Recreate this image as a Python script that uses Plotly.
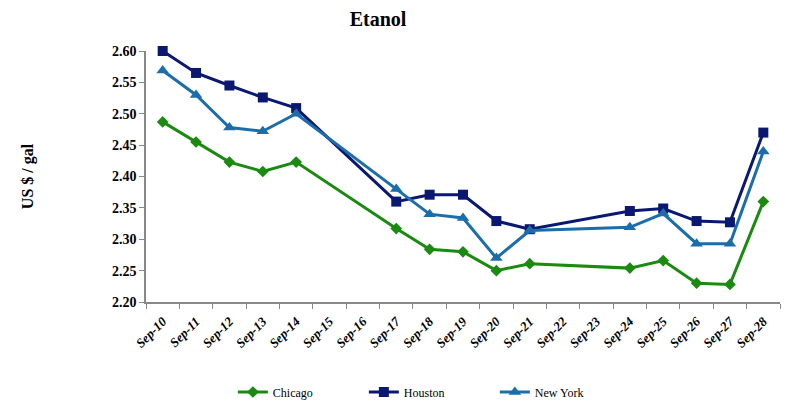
import plotly.graph_objects as go

categories = ["Sep-10", "Sep-11", "Sep-12", "Sep-13", "Sep-14", "Sep-15", "Sep-16",
              "Sep-17", "Sep-18", "Sep-19", "Sep-20", "Sep-21", "Sep-22", "Sep-23",
              "Sep-24", "Sep-25", "Sep-26", "Sep-27", "Sep-28"]
chicago = [2.487, 2.455, 2.423, 2.408, 2.423, None, None, 2.317, 2.284, 2.280,
           2.250, 2.261, None, None, 2.254, 2.266, 2.230, 2.228, 2.360]
houston = [2.600, 2.565, 2.545, 2.526, 2.509, None, None, 2.360, 2.371, 2.371,
           2.329, 2.316, None, None, 2.345, 2.349, 2.329, 2.327, 2.470]
new_york = [2.569, 2.530, 2.478, 2.472, 2.500, None, None, 2.380, 2.340, 2.334,
            2.270, 2.314, None, None, 2.319, 2.341, 2.293, 2.293, 2.440]
y_ticks = [2.20, 2.25, 2.30, 2.35, 2.40, 2.45, 2.50, 2.55, 2.60]

font_family = "Liberation Serif"

fig = go.Figure()
fig.add_trace(go.Scatter(x=categories, y=chicago, name="Chicago", mode="lines+markers",
                         connectgaps=True, cliponaxis=False, line=dict(color="#1a8a10", width=3),
                         marker=dict(symbol="diamond", size=9, color="#1a8a10")))
fig.add_trace(go.Scatter(x=categories, y=houston, name="Houston", mode="lines+markers",
                         connectgaps=True, cliponaxis=False, line=dict(color="#0b1872", width=3),
                         marker=dict(symbol="square", size=10, color="#0b1872")))
fig.add_trace(go.Scatter(x=categories, y=new_york, name="New York", mode="lines+markers",
                         connectgaps=True, cliponaxis=False, line=dict(color="#1b6eaa", width=3),
                         marker=dict(symbol="triangle-up", size=11, color="#1b6eaa")))

fig.update_layout(
    width=786, height=412,
    margin=dict(l=146, r=6, t=51, b=110, autoexpand=False),
    paper_bgcolor="white", plot_bgcolor="white",
    title=dict(text="<b>Etanol</b>", x=0.481, xref="container", xanchor="center",
               y=0.953, yref="container", yanchor="middle",
               font=dict(family=font_family, size=20, color="black")),
    font=dict(family=font_family, color="black"),
    xaxis=dict(type="category", range=[-0.5, 18.5], tickangle=-45, automargin=False,
               tickson="boundaries", ticks="outside", ticklen=5, tickcolor="#888888",
               ticklabelstandoff=5,
               showline=True, linecolor="#888888", linewidth=1.5, showgrid=False,
               tickfont=dict(family=font_family, size=13, weight="bold", style="italic", color="black")),
    yaxis=dict(range=[2.20, 2.60], tickvals=y_ticks, tickformat=".2f", automargin=False,
               ticks="outside", ticklen=5, tickcolor="#888888",
               showline=True, linecolor="#888888", linewidth=1.5, showgrid=False, zeroline=False,
               tickfont=dict(family=font_family, size=14, weight="bold", color="black"),
               title=dict(text="<b>US $ / gal</b>", standoff=74,
                          font=dict(family=font_family, size=16, color="black"))),
    legend=dict(orientation="h", x=0.137, xanchor="left", xref="paper",
                y=0.0485, yref="container", yanchor="middle",
                entrywidth=86, entrywidthmode="pixels",
                font=dict(family=font_family, size=12, color="black")),
)

fig.write_html("out.html", config={"displayModeBar": False},
               post_script="document.body.style.margin='0';")
